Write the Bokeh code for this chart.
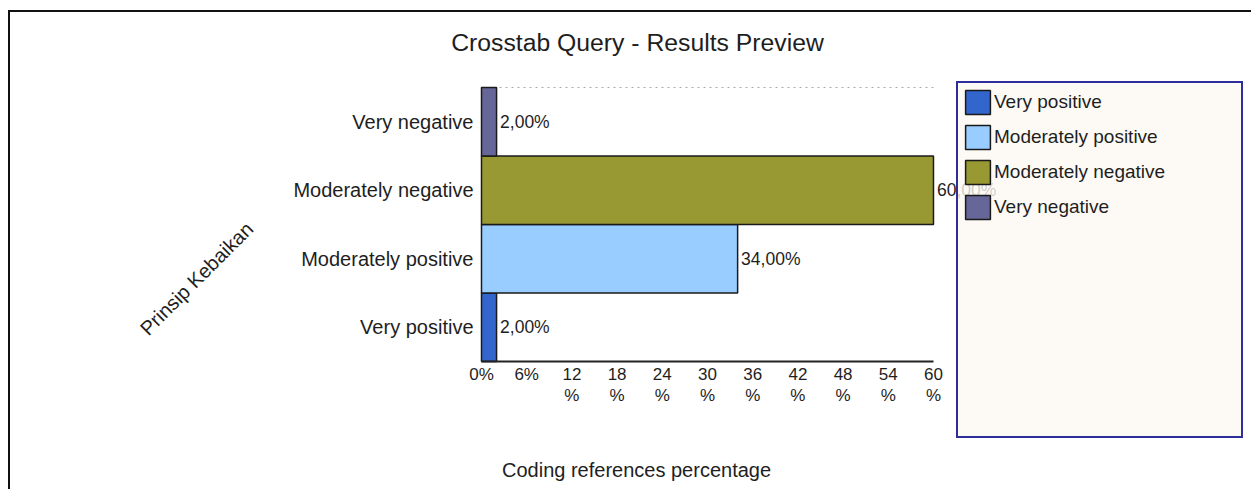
from bokeh.plotting import figure
from bokeh.models import (ColumnDataSource, Range1d, LabelSet, Label,
                          Legend, LegendItem, FixedTicker)
from bokeh.core.properties import value
from bokeh.embed import file_html
from bokeh.resources import INLINE

# ---- data ----
categories = ["Very positive", "Moderately positive", "Moderately negative", "Very negative"]
values = [2.0, 34.0, 60.0, 2.0]
colors = ["#3366cc", "#99ccff", "#999933", "#666699"]
tick_values = [0, 6, 12, 18, 24, 30, 36, 42, 48, 54, 60]
tick_labels = ["0%", "6%", "12\n%", "18\n%", "24\n%", "30\n%", "36\n%", "42\n%", "48\n%", "54\n%", "60\n%"]
title_text = "Crosstab Query - Results Preview"
x_title = "Coding references percentage"
y_title = "Prinsip Kebaikan"
value_labels = [("%.2f" % v).replace(".", ",") + "%" for v in values]

FONT = "Liberation Sans"
TXT = "#1e1e1e"

n = len(categories)
ypos = [i + 0.5 for i in range(n)]
x_max = tick_values[-1]

source = ColumnDataSource(dict(cat=categories, y=ypos, val=values, color=colors, lab=value_labels))

# frame spans the plot area and the legend box; the x axis is pinned at y=0
p = figure(width=1243, height=479,
           x_range=Range1d(-1.726, 101.42), y_range=Range1d(-1.1387, 4.1314),
           output_backend="svg", toolbar_location=None,
           min_border_left=458, min_border_right=8,
           min_border_top=66, min_border_bottom=52)
p.styles = {"border-left": "2px solid #111", "border-top": "2px solid #111",
            "margin-top": "10px", "margin-left": "8px"}

p.background_fill_color = "white"
p.border_fill_color = "white"
p.outline_line_color = None
p.grid.visible = False

# dotted top boundary of the plotting area
p.segment(x0=[0], y0=[n], x1=[x_max], y1=[n], line_color="#aaaaaa",
          line_dash="dotted", line_width=1, level="underlay")

bars = p.hbar(y="y", right="val", left=0, height=1.0, source=source,
              fill_color="color", line_color="#1a1a1a", line_width=1.5)

labels = LabelSet(x="val", y="y", text="lab", source=source, x_offset=3.5,
                  text_baseline="middle", text_font=value(FONT), text_font_size="17.5px",
                  text_color=TXT)
p.add_layout(labels)

# x axis
xa = p.xaxis[0]
xa.fixed_location = 0
xa.bounds = (0, x_max)
xa.ticker = FixedTicker(ticks=tick_values)
xa.major_label_overrides = dict(zip(tick_values, tick_labels))
xa.axis_line_color = "#222222"
xa.axis_line_width = 2
xa.major_tick_line_color = None
xa.minor_tick_line_color = None
xa.major_tick_out = 0
xa.major_tick_in = 0
xa.major_label_standoff = 4
xa.major_label_text_font = FONT
xa.major_label_text_font_size = "17px"
xa.major_label_text_line_height = 1.08
xa.major_label_text_color = TXT

# y axis
ya = p.yaxis[0]
ya.ticker = FixedTicker(ticks=ypos)
ya.major_label_overrides = dict(zip(ypos, categories))
ya.axis_line_color = None
ya.major_tick_line_color = None
ya.minor_tick_line_color = None
ya.major_tick_out = 0
ya.major_tick_in = 0
ya.major_label_standoff = -5
ya.major_label_text_font = FONT
ya.major_label_text_font_size = "20px"
ya.major_label_text_color = TXT

# titles (side panels, so they are not clipped to the frame)
p.add_layout(Label(x=20.71, y=4.657, text=title_text,
                   text_align="center", text_baseline="middle", text_font=FONT,
                   text_font_size="24.75px", text_color=TXT), "above")
p.add_layout(Label(x=20.58, y=-1.577, text=x_title,
                   text_align="center", text_baseline="middle", text_font=FONT,
                   text_font_size="20px", text_color=TXT), "above")
p.add_layout(Label(x=-37.83, y=1.21, text=y_title,
                   angle=0.785398, text_align="center", text_baseline="middle",
                   text_font=FONT, text_font_size="20px", text_color=TXT), "left")

# legend (padded with blank rows to reach the tall box)
dummy = p.hbar(y=[], right=[], left=0, height=1.0, fill_alpha=0, line_alpha=0)
items = [LegendItem(label=c, renderers=[bars], index=i) for i, c in enumerate(categories)]
items += [LegendItem(label=" ", renderers=[dummy]) for _ in range(6)]
legend = Legend(items=items, location=(488, 1),
                glyph_width=31, glyph_height=30, label_height=30, label_width=243,
                spacing=5, padding=4, label_standoff=1, margin=0,
                border_line_color="#2e2e9a", border_line_width=2, border_line_alpha=1.0,
                background_fill_color="#fdf9f3", background_fill_alpha=0.8,
                label_text_font=FONT, label_text_font_size="19px", label_text_color=TXT)
p.add_layout(legend)

open("out.html", "w").write(file_html(p, INLINE))
